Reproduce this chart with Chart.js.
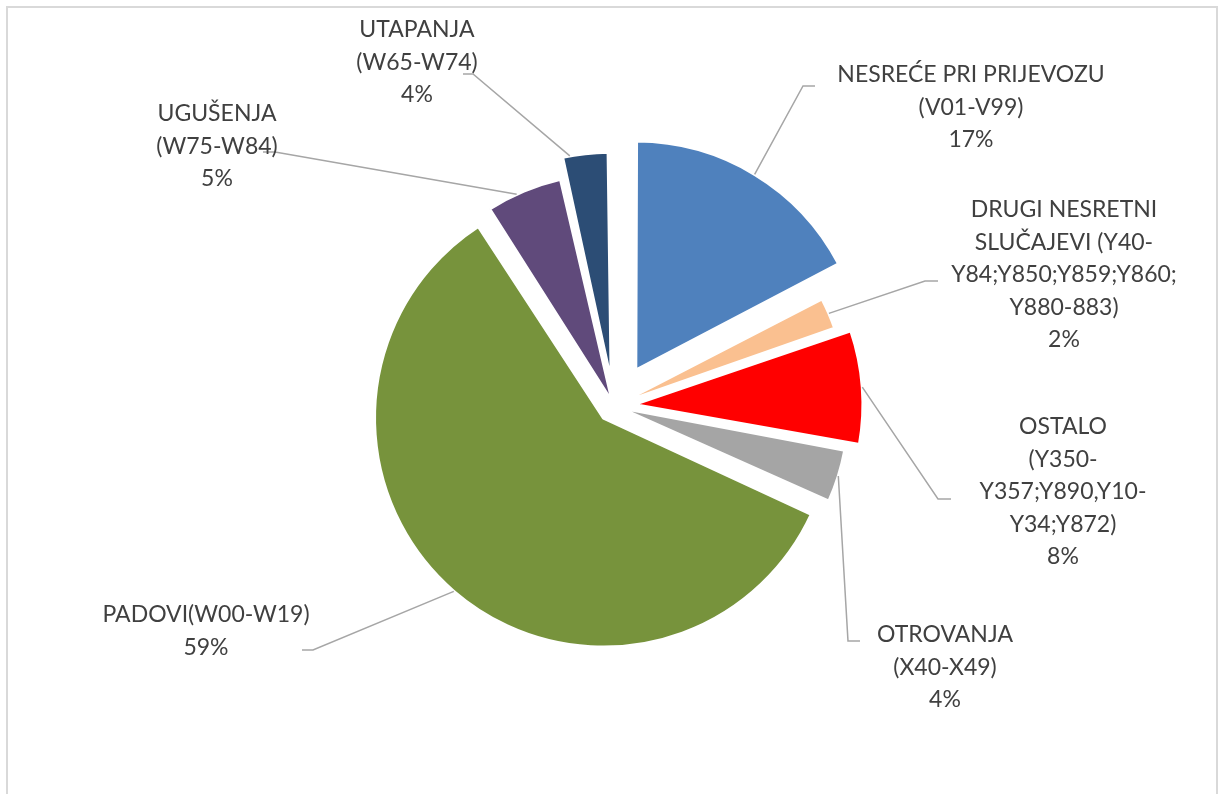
<!DOCTYPE html>
<html>
<head>
<meta charset="utf-8">
<script src="https://cdn.jsdelivr.net/npm/chart.js@4.4.1/dist/chart.umd.min.js"></script>
<style>
  html, body { margin: 0; padding: 0; background: #fff; }
  #wrap { position: relative; width: 1219px; height: 794px; overflow: hidden; }
  #frame { position: absolute; left: 6px; top: 6px; width: 1212px; height: 830px;
           border: 2px solid #d9d9d9; box-sizing: border-box; }
  #pie { position: absolute; left: 0; top: 0; }
</style>
</head>
<body>
<div id="wrap">
  <div id="frame"></div>
  <canvas id="pie" width="1219" height="794"></canvas>
</div>
<script>
/* ==========================
   DATA
========================== */
const categories = [
  "NESREĆE PRI PRIJEVOZU\n(V01-V99)",
  "DRUGI NESRETNI\nSLUČAJEVI (Y40-\nY84;Y850;Y859;Y860;\nY880-883)",
  "OSTALO\n(Y350-\nY357;Y890,Y10-\nY34;Y872)",
  "OTROVANJA\n(X40-X49)",
  "PADOVI(W00-W19)",
  "UGUŠENJA\n(W75-W84)",
  "UTAPANJA\n(W65-W74)"
];
const shares = [17.3, 2.3, 8.2, 3.8, 59.0, 5.4, 3.6];
const sliceColors = ["#4F81BD", "#FAC090", "#FF0000", "#A5A5A5", "#77933C", "#604A7B", "#2C4D75"];

/* ==========================
   LAYOUT
========================== */
const PIE_RADIUS = 229;
// how far each slice is pulled out (px)
const explode = [42, 5, 20, 6, 16, 4, 25];
// label block: centre x, first line y, leader elbow and end, anchor on the arc (0..1)
const labelLayout = [
  { x: 971,  y: 75,  elbow: [803, 86],  end: [815, 86],  anchor: 0.5 },
  { x: 1064, y: 210, elbow: [925, 281], end: [938, 281], anchor: 0.5 },
  { x: 1063, y: 427, elbow: [938, 499], end: [951, 499], anchor: 0.5 },
  { x: 945,  y: 635, elbow: [848, 641], end: [860, 641], anchor: 0.5 },
  { x: 206,  y: 615, elbow: [313, 650], end: [302, 650], anchor: 0.5 },
  { x: 217,  y: 114, elbow: [275, 152], end: [263, 152], anchor: 0.4 },
  { x: 417,  y: 30,  elbow: [473, 74],  end: [463, 74],  anchor: 0.2 }
];
const LINE_H = 32.5;

// chart.js grows the radius of offset arcs; pull it back so every slice keeps the same size
const keepRadius = {
  id: "keepRadius",
  afterDatasetUpdate(chart) {
    const meta = chart.getDatasetMeta(0);
    meta.data.forEach((arc, i) => {
      const circ = arc.endAngle - arc.startAngle;
      const fix = 1 - Math.sin(Math.min(Math.PI, circ));
      arc.outerRadius = PIE_RADIUS - explode[i] * fix;
    });
  }
};

const outsideLabels = {
  id: "outsideLabels",
  afterDraw(chart) {
    const ctx = chart.ctx;
    const meta = chart.getDatasetMeta(0);
    const total = shares.reduce((a, b) => a + b, 0);
    ctx.save();
    meta.data.forEach((arc, i) => {
      const lay = labelLayout[i];
      const mid = (arc.startAngle + arc.endAngle) / 2;
      const cx = arc.x + Math.cos(mid) * explode[i];
      const cy = arc.y + Math.sin(mid) * explode[i];
      const a = arc.startAngle + (arc.endAngle - arc.startAngle) * lay.anchor;
      const px = cx + Math.cos(a) * PIE_RADIUS;
      const py = cy + Math.sin(a) * PIE_RADIUS;

      ctx.strokeStyle = "#A6A6A6";
      ctx.lineWidth = 1.5;
      ctx.beginPath();
      ctx.moveTo(px, py);
      ctx.lineTo(lay.elbow[0], lay.elbow[1]);
      ctx.lineTo(lay.end[0], lay.end[1]);
      ctx.stroke();

      const lines = categories[i].split("\n");
      lines.push(Math.round(shares[i] / total * 100) + "%");
      ctx.fillStyle = "#404040";
      ctx.font = "23px Lato";
      ctx.textAlign = "center";
      ctx.textBaseline = "middle";
      lines.forEach((txt, k) => ctx.fillText(txt, lay.x, lay.y + k * LINE_H));
    });
    ctx.restore();
  }
};

new Chart(document.getElementById("pie"), {
  type: "pie",
  data: {
    labels: categories,
    datasets: [{
      data: shares,
      backgroundColor: sliceColors,
      borderColor: "#ffffff",
      borderWidth: 3,
      offset: explode.map(v => v * 4)
    }]
  },
  options: {
    responsive: false,
    animation: false,
    events: [],
    radius: PIE_RADIUS,
    layout: { padding: { left: 20, right: 11, top: 30, bottom: 12 } },
    plugins: {
      legend: { display: false },
      tooltip: { enabled: false }
    }
  },
  plugins: [keepRadius, outsideLabels]
});
</script>
</body>
</html>
